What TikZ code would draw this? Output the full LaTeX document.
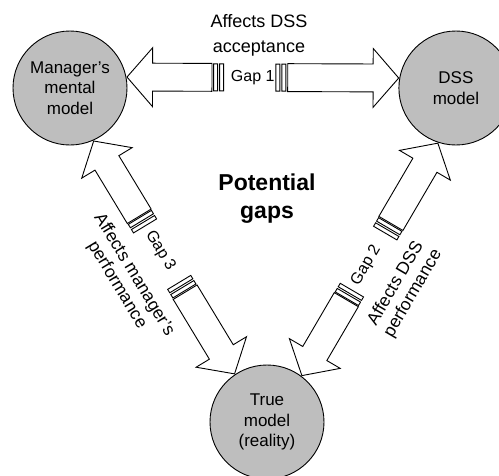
\documentclass[tikz,border=0pt]{standalone}
\usepackage{fontspec}
\setmainfont{Liberation Sans}
\usetikzlibrary{shapes.arrows,positioning}
\definecolor{modelgray}{RGB}{190,190,190}

\begin{document}
\begin{tikzpicture}[
      x=1pt, y=-1pt, line width=0.9pt,
      model/.style={circle, draw, fill=modelgray, minimum size=114pt, inner sep=0pt, align=center, font=\fontsize{17}{20.5}\selectfont},
      gaparrow/.style={single arrow, draw, sloped, allow upside down, anchor=tip, inner xsep=0pt, inner ysep=13.5pt, single arrow head extend=15.5pt, single arrow tip angle=98},
      gapbar/.style={rectangle, draw, sloped, inner sep=0pt, minimum width=4pt, minimum height=27pt},
      gaplabel/.style={sloped, inner sep=0pt, font=\fontsize{16}{19}\selectfont},
      effect/.style={sloped, inner sep=0pt, align=center, font=\fontsize{17.5}{20}\selectfont},
   ]
   \useasboundingbox (0,0) rectangle (499,475);

   \node[model] (mgr) at (70,88) {Manager's\\mental\\model};
   \node[model] (dss) [right=271pt of mgr] {DSS\\model};
   \node[model] (reality) at (267,422) {True\\model\\(reality)};

   \node[align=center, font=\fontsize{18}{25}\selectfont] (accept) at (259,35) {Affects DSS\\acceptance};
   \node[align=center, font=\bfseries\fontsize{23}{28}\selectfont] (pot) at (267,199) {Potential\\gaps};

   \path (dss.170) -- (mgr.11) node[gaparrow, pos=1, minimum height=85pt] (g1a) {};
   \path (mgr.11) -- (dss.170) node[gaparrow, pos=1, minimum height=111pt] (g1b) {}
      node[gapbar, pos=0.327] (g1bar1) {} node[gapbar, pos=0.349] (g1bar2) {}
      node[gapbar, pos=0.555] (g1bar3) {} node[gapbar, pos=0.577] (g1bar4) {}
      node[gaplabel, pos=0.463] (g1) {Gap 1};

   \path (reality.124) -- (mgr.-66) node[gaparrow, pos=1, minimum height=88pt] (g3a) {};
   \path (mgr.-66) -- (reality.124) node[gaparrow, pos=1, minimum height=95.5pt] (g3b) {}
      node[gapbar, pos=0.336] (g3bar1) {} node[gapbar, pos=0.358] (g3bar2) {}
      node[gapbar, pos=0.614] (g3bar3) {} node[gapbar, pos=0.636] (g3bar4) {}
      node[gaplabel, pos=0.472] (g3) {Gap 3}
      node[effect, pos=0.497, below=26pt] (e3) {Affects manager's\\performance};

   \path (dss.-108) -- (reality.53) node[gaparrow, pos=1, minimum height=88pt] (g2a) {};
   \path (reality.53) -- (dss.-108) node[gaparrow, pos=1, minimum height=93pt] (g2b) {}
      node[gapbar, pos=0.339] (g2bar1) {} node[gapbar, pos=0.361] (g2bar2) {}
      node[gapbar, pos=0.620] (g2bar3) {} node[gapbar, pos=0.642] (g2bar4) {}
      node[gaplabel, pos=0.474] (g2) {Gap 2}
      node[effect, pos=0.472, below=26pt] (e2) {Affects DSS\\performance};
\end{tikzpicture}
\end{document}
